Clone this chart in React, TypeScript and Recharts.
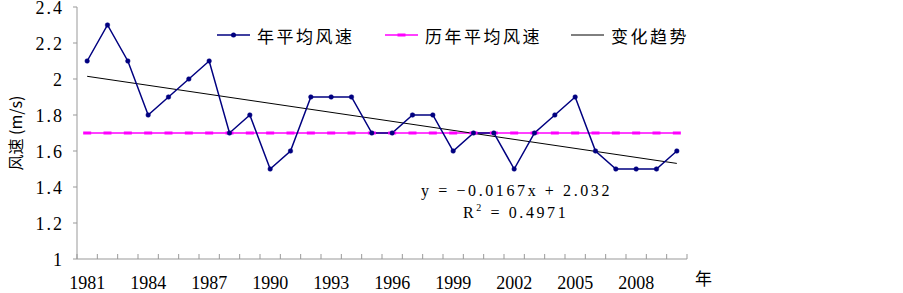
import React from 'react';
import { LineChart, Line, XAxis, YAxis } from 'recharts';

const years = [1981, 1982, 1983, 1984, 1985, 1986, 1987, 1988, 1989, 1990, 1991, 1992, 1993, 1994, 1995, 1996, 1997, 1998, 1999, 2000, 2001, 2002, 2003, 2004, 2005, 2006, 2007, 2008, 2009, 2010];
const windSpeed = [2.1, 2.3, 2.1, 1.8, 1.9, 2.0, 2.1, 1.7, 1.8, 1.5, 1.6, 1.9, 1.9, 1.9, 1.7, 1.7, 1.8, 1.8, 1.6, 1.7, 1.7, 1.5, 1.7, 1.8, 1.9, 1.6, 1.5, 1.5, 1.5, 1.6];
const longTermMean = 1.7;
const trendStartValue = 2.015;
const trendEndValue = 1.531;
const yTicks = [1, 1.2, 1.4, 1.6, 1.8, 2, 2.2, 2.4];
const xLabelYears = [1981, 1984, 1987, 1990, 1993, 1996, 1999, 2002, 2005, 2008];
const legendNames = ['年平均风速', '历年平均风速', '变化趋势'];
const equationText = 'y = −0.0167x + 2.032';
const r2Text = '0.4971';

const data = years.map((yr, i) => ({
  year: yr,
  speed: windSpeed[i],
  mean: longTermMean,
  trend: i === 0 ? trendStartValue : i === years.length - 1 ? trendEndValue : null,
}));

const boundaries = [...years.map((y) => y - 0.5), years[years.length - 1] + 0.5];
const xTicks = [...boundaries, ...xLabelYears].sort((a, b) => a - b);

const NAVY = '#000080';
const MAGENTA = '#FF00FF';
const AXIS = '#999999';
const SERIF = '"Liberation Serif", "DejaVu Serif", serif';
const CJK = '"Noto Sans CJK SC", sans-serif';

const XTick = (props: any) => {
  const { x, y, payload } = props;
  const v = payload.value as number;
  if (Math.abs(v - Math.round(v)) > 0.01) {
    return <line x1={x} x2={x} y1={y} y2={y - 5} stroke={AXIS} strokeWidth={1} />;
  }
  return (
    <text x={x} y={y + 24} textAnchor="middle" dominantBaseline="central" fontFamily={SERIF} fontSize={18} fill="#000">
      {v}
    </text>
  );
};

const YTick = (props: any) => {
  const { x, y, payload } = props;
  const v = payload.value as number;
  const label = Number.isInteger(v) ? String(v) : v.toFixed(1);
  return (
    <text x={x} y={y + 1} textAnchor="end" dominantBaseline="central" fontFamily={SERIF} fontSize={18} letterSpacing={2} fill="#000">
      {label}
    </text>
  );
};

const MeanDot = (props: any) => {
  const { cx, cy } = props;
  if (cx == null || cy == null) return null;
  return <rect x={cx - 4} y={cy - 1.5} width={8} height={3} fill={MAGENTA} />;
};

const LegendItem = ({ left, kind, name }: { left: number; kind: number; name: string }) => (
  <div style={{ position: 'absolute', left, top: 24, height: 22, display: 'flex', alignItems: 'center' }}>
    <svg width={34} height={22} style={{ display: 'block' }}>
      {kind === 0 && (
        <>
          <line x1={0} x2={33} y1={11} y2={11} stroke={NAVY} strokeWidth={1.5} />
          <circle cx={16.5} cy={11} r={2.5} fill={NAVY} />
        </>
      )}
      {kind === 1 && (
        <>
          <line x1={0} x2={33} y1={11} y2={11} stroke={MAGENTA} strokeWidth={1.5} />
          <rect x={12.5} y={9.5} width={8} height={3} fill={MAGENTA} />
        </>
      )}
      {kind === 2 && <line x1={0} x2={33} y1={11} y2={11} stroke="#000" strokeWidth={1} />}
    </svg>
    <span style={{ marginLeft: 6, fontFamily: CJK, fontSize: 17, letterSpacing: 2.5, color: '#000', whiteSpace: 'nowrap' }}>{name}</span>
  </div>
);

export default function App() {
  return (
    <div style={{ position: 'absolute', left: 0, top: 0, width: 903, height: 293, background: '#fff' }}>
      <LineChart width={903} height={293} data={data} margin={{ top: 7, right: 216, bottom: 0, left: 0 }}>
        <XAxis
          dataKey="year"
          type="number"
          domain={[1980.5, 2010.5]}
          ticks={xTicks}
          interval={0}
          tick={<XTick />}
          tickLine={false}
          tickSize={0}
          tickMargin={0}
          height={34}
          axisLine={{ stroke: AXIS, strokeWidth: 1 }}
        />
        <YAxis
          type="number"
          domain={[1, 2.4]}
          ticks={yTicks}
          interval={0}
          width={77}
          tick={<YTick />}
          tickLine={{ stroke: AXIS, strokeWidth: 1 }}
          tickSize={4}
          tickMargin={9}
          axisLine={{ stroke: AXIS, strokeWidth: 1 }}
        />
        <Line type="linear" dataKey="mean" stroke={MAGENTA} strokeWidth={1.5} dot={<MeanDot />} activeDot={false} isAnimationActive={false} />
        <Line type="linear" dataKey="trend" stroke="#000" strokeWidth={1} dot={false} activeDot={false} connectNulls isAnimationActive={false} />
        <Line type="linear" dataKey="speed" stroke={NAVY} strokeWidth={1.5} dot={{ r: 2.3, fill: NAVY, stroke: NAVY, strokeWidth: 0.5 }} activeDot={false} isAnimationActive={false} />
      </LineChart>

      <div style={{ position: 'absolute', left: 7, top: 133, width: 0, height: 0 }}>
        <div style={{ position: 'absolute', transform: 'translate(-50%, -50%) rotate(-90deg)', whiteSpace: 'nowrap', fontFamily: CJK, fontSize: 16, color: '#000', left: 8 }}>
          风速 (m/s)
        </div>
      </div>

      <LegendItem left={217} kind={0} name={legendNames[0]} />
      <LegendItem left={385} kind={1} name={legendNames[1]} />
      <LegendItem left={571} kind={2} name={legendNames[2]} />

      <div style={{ position: 'absolute', left: 421, top: 181, fontFamily: SERIF, fontSize: 16, letterSpacing: 2.6, whiteSpace: 'pre', color: '#000', lineHeight: '20px' }}>
        {equationText}
      </div>
      <div style={{ position: 'absolute', left: 463, top: 203, fontFamily: SERIF, fontSize: 16, letterSpacing: 2.6, whiteSpace: 'pre', color: '#000', lineHeight: '20px' }}>
        R<sup style={{ fontSize: 10, verticalAlign: 'top', lineHeight: '10px' }}>2</sup> = {r2Text}
      </div>

      <div style={{ position: 'absolute', left: 695, top: 268, fontFamily: CJK, fontSize: 17, color: '#000', lineHeight: '20px' }}>年</div>
    </div>
  );
}
